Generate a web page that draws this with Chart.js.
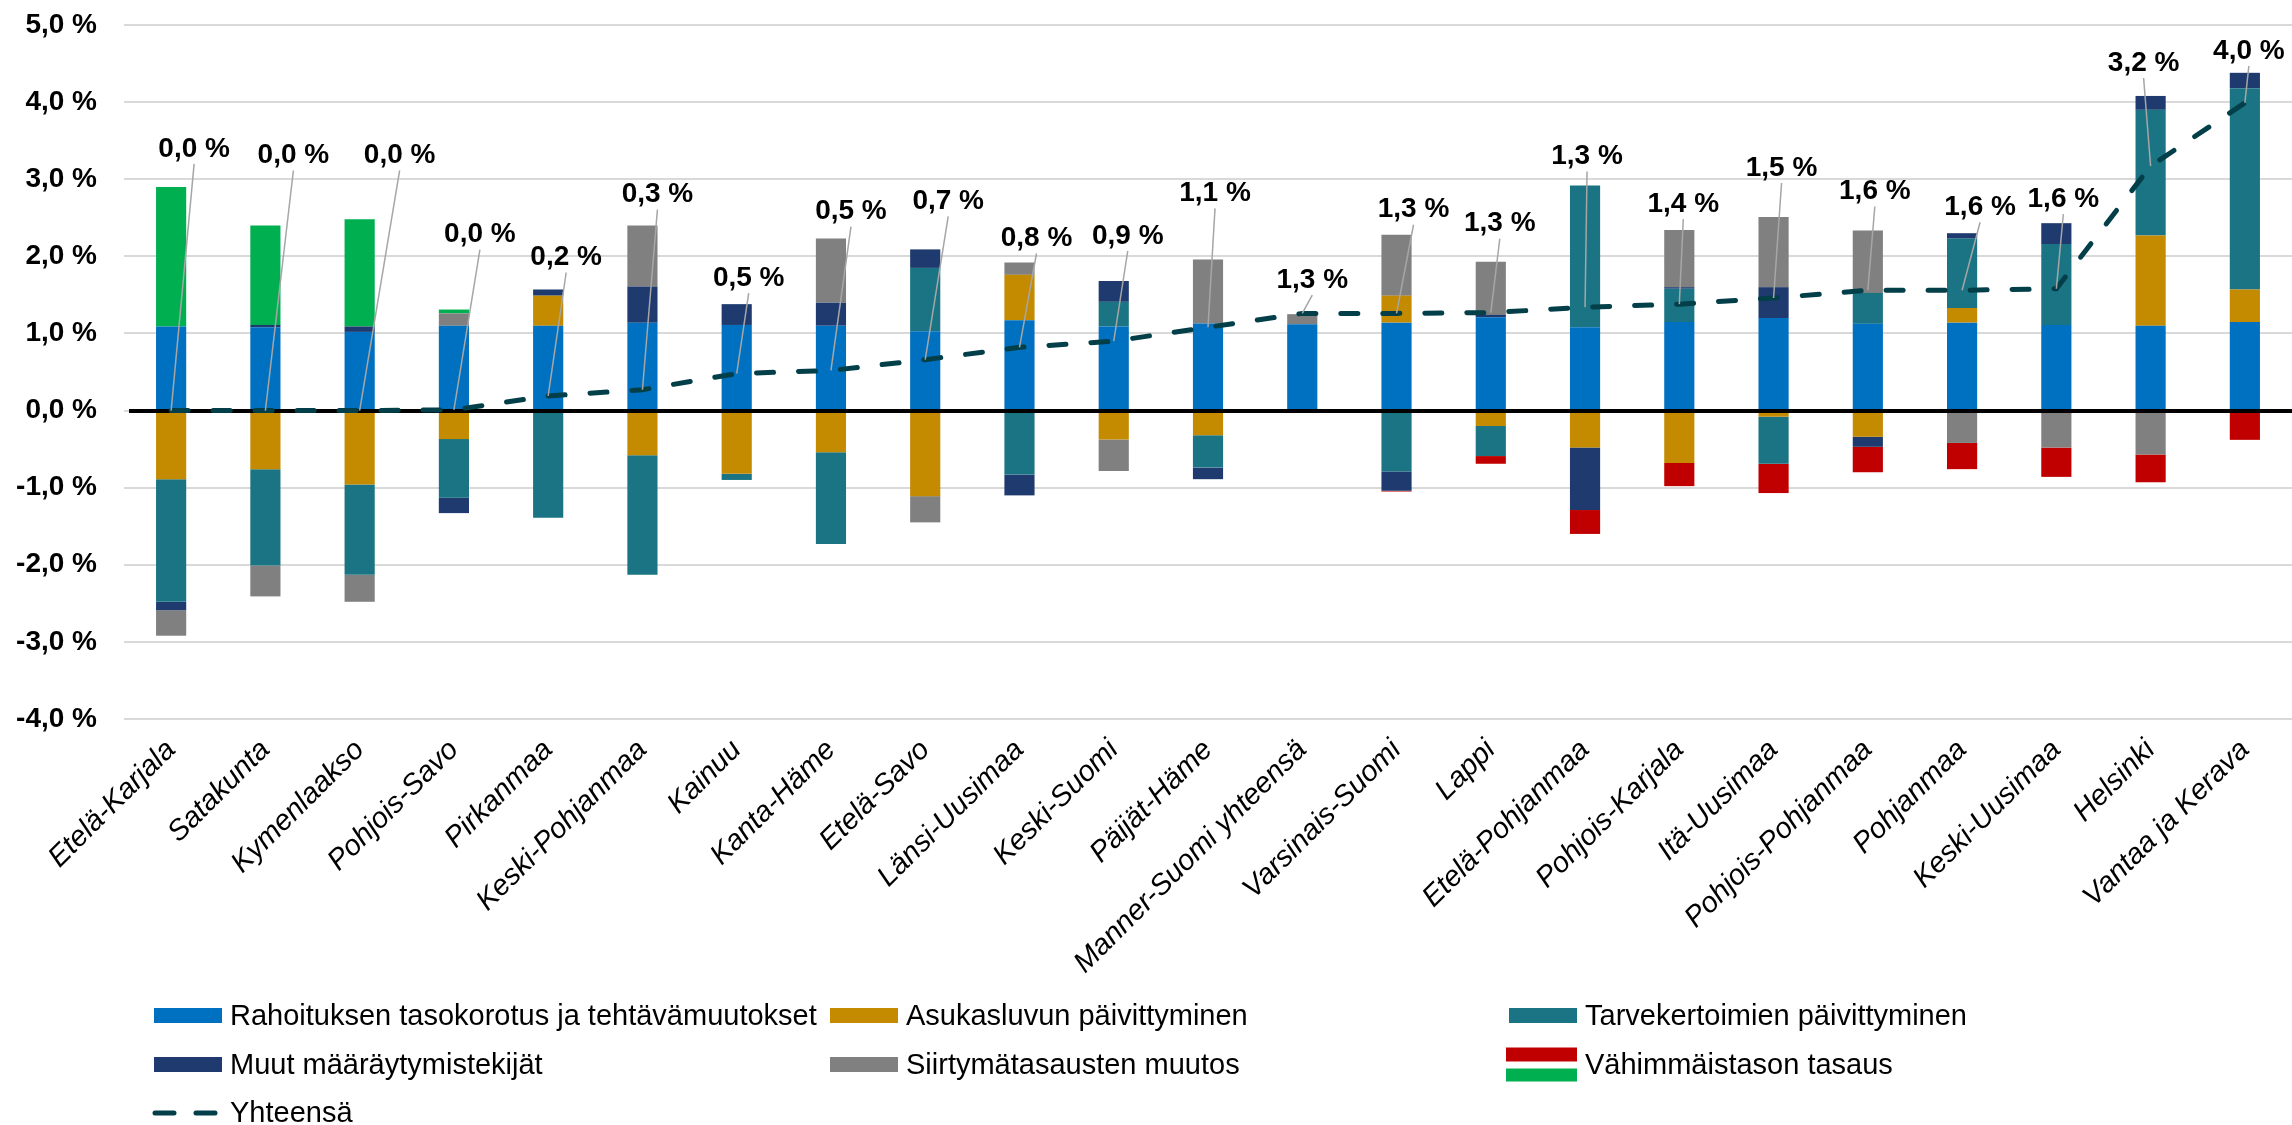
<!DOCTYPE html>
<html><head><meta charset="utf-8">
<script src="https://cdn.jsdelivr.net/npm/chart.js@4"></script>
<style>html,body{margin:0;padding:0;background:#fff}#wrap{width:2292px;height:1125px;position:relative}</style>
</head><body><div id="wrap"><canvas id="c" width="2292" height="1125"></canvas></div>
<script>
// ---------- data ----------
const categories = ['Etelä-Karjala','Satakunta','Kymenlaakso','Pohjois-Savo','Pirkanmaa','Keski-Pohjanmaa','Kainuu','Kanta-Häme','Etelä-Savo','Länsi-Uusimaa','Keski-Suomi','Päijät-Häme','Manner-Suomi yhteensä','Varsinais-Suomi','Lappi','Etelä-Pohjanmaa','Pohjois-Karjala','Itä-Uusimaa','Pohjois-Pohjanmaa','Pohjanmaa','Keski-Uusimaa','Helsinki','Vantaa ja Kerava'];
const rahoitus   = [1.09,1.08,1.02,1.10,1.10,1.14,1.11,1.10,1.03,1.17,1.09,1.13,1.12,1.14,1.21,1.08,1.15,1.20,1.125,1.14,1.11,1.10,1.15];
const asukas     = [-0.89,-0.76,-0.96,-0.37,0.39,-0.58,-0.82,-0.54,-1.11,0.59,-0.375,-0.32,0,0.35,-0.20,-0.48,-0.68,-0.08,-0.34,0.19,0,1.17,0.42];
const tarve      = [-1.59,-1.25,-1.17,-0.76,-1.39,-1.55,-0.08,-1.19,0.82,-0.83,0.32,-0.42,0,-0.79,-0.39,1.84,0.43,-0.61,0.40,0.90,1.05,1.63,2.61];
const muut       = [-0.11,0.03,0.07,-0.20,0.08,0.47,0.27,0.30,0.24,-0.27,0.27,-0.15,0,-0.25,0.03,-0.81,0.02,0.40,-0.13,0.07,0.27,0.18,0.20];
const siirtyma   = [-0.33,-0.40,-0.35,0.16,0,0.79,0,0.83,-0.34,0.16,-0.41,0.83,0.13,0.79,0.69,0,0.74,0.91,0.81,-0.42,-0.48,-0.57,0];
const vahimmais  = [1.81,1.29,1.39,0.05,0,0,0,0,0,0,0,0,0,-0.01,-0.10,-0.31,-0.30,-0.38,-0.33,-0.34,-0.38,-0.36,-0.38];
const yhteensa   = [0,0,0,0.01,0.19,0.27,0.48,0.52,0.66,0.82,0.90,1.08,1.26,1.26,1.27,1.34,1.38,1.46,1.56,1.56,1.58,3.17,3.99];
const yTickValues = [-4,-3,-2,-1,0,1,2,3,4,5];
const seriesNames = ['Rahoituksen tasokorotus ja tehtävämuutokset','Asukasluvun päivittyminen','Tarvekertoimien päivittyminen','Muut määräytymistekijät','Siirtymätasausten muutos','Vähimmäistason tasaus','Yhteensä'];

// ---------- layout / style (label placement nudges, px) ----------
const labelNudgeX = [23,28,40,26,18,15,12,20,23,17,14,7,10,17,9,2,4,8,7,18,7,-7,4];
const labelNudgeY = [38,70,64,75,32,31,26,27,48,24,45,66,34,25,38,29,26,49,39,26,24,33,22];
const COLORS = {blue:'#0070C0', orange:'#C48A00', teal:'#1B7483', navy:'#1E3A6E', gray:'#808080', red:'#C00000', green:'#00B050', line:'#033F48'};
const FONT = '"Liberation Sans", Arial, sans-serif';

const fmt = v => (Math.abs(v) < 0.05 ? 0 : v).toFixed(1).replace('.', ',') + ' %';

const barSeries = [rahoitus, asukas, tarve, muut, siirtyma, vahimmais];
const barColors = [COLORS.blue, COLORS.orange, COLORS.teal, COLORS.navy, COLORS.gray, ctx => (ctx.raw < 0 ? COLORS.red : COLORS.green)];

const datasets = barSeries.map((d, k) => ({
  type: 'bar', label: seriesNames[k], data: d, backgroundColor: barColors[k],
  stack: 'bars', order: 1, barPercentage: 0.32, categoryPercentage: 1.0, borderWidth: 0
}));
datasets.push({
  type: 'line', label: seriesNames[6], data: yhteensa, stack: 'total', order: 0,
  borderColor: COLORS.line, borderWidth: 5, borderDash: [17, 25], borderCapStyle: 'round',
  pointRadius: 0, pointHoverRadius: 0, fill: false, tension: 0
});

const overlay = {
  id: 'overlay',
  afterDatasetDraw(chart, args) {
    if (args.index !== 0) return;
    const ctx = chart.ctx, y = chart.scales.y, a = chart.chartArea;
    const y0 = Math.round(y.getPixelForValue(0));
    ctx.save(); ctx.strokeStyle = '#000'; ctx.lineWidth = 4;
    ctx.beginPath(); ctx.moveTo(a.left + 5, y0); ctx.lineTo(a.right, y0); ctx.stroke(); ctx.restore();
  },
  afterDatasetsDraw(chart) {
    const ctx = chart.ctx, xs = chart.scales.x, ys = chart.scales.y;
    const lineMeta = chart.getDatasetMeta(6);
    ctx.save();
    categories.forEach((c, i) => {
      let top = 0;
      barSeries.forEach(s => { if (s[i] > 0) top += s[i]; });
      const topPx = ys.getPixelForValue(top);
      const lx = xs.getPixelForValue(i) + labelNudgeX[i];
      const ly = topPx - labelNudgeY[i];
      const pt = lineMeta.data[i];
      ctx.strokeStyle = '#A6A6A6'; ctx.lineWidth = 1.5;
      ctx.beginPath(); ctx.moveTo(pt.x, pt.y); ctx.lineTo(lx, ly + 15); ctx.stroke();
      ctx.fillStyle = '#000'; ctx.font = 'bold 28px ' + FONT;
      ctx.textAlign = 'center'; ctx.textBaseline = 'middle';
      ctx.fillText(fmt(yhteensa[i]), lx, ly);
    });
    ctx.restore();
  },
  afterDraw(chart) {
    const ctx = chart.ctx;
    const colX = [154, 830, 1509];
    const rowY = [1015.5, 1064.5, 1113];
    const items = [
      {c:0, r:0, color:COLORS.blue}, {c:1, r:0, color:COLORS.orange}, {c:2, r:0, color:COLORS.teal},
      {c:0, r:1, color:COLORS.navy}, {c:1, r:1, color:COLORS.gray}, {c:2, r:1, color:'split'},
      {c:0, r:2, color:'dash'}
    ];
    ctx.save();
    ctx.font = '29px ' + FONT; ctx.textBaseline = 'middle'; ctx.textAlign = 'left';
    items.forEach((it, k) => {
      const x = colX[it.c], yc = rowY[it.r];
      if (it.color === 'split') {
        ctx.fillStyle = COLORS.red; ctx.fillRect(x - 3, yc - 17, 71, 14);
        ctx.fillStyle = COLORS.green; ctx.fillRect(x - 3, yc + 4, 71, 13);
      } else if (it.color === 'dash') {
        ctx.strokeStyle = COLORS.line; ctx.lineWidth = 5; ctx.lineCap = 'round';
        ctx.beginPath(); ctx.moveTo(x + 1, yc); ctx.lineTo(x + 20, yc);
        ctx.moveTo(x + 42, yc); ctx.lineTo(x + 61, yc); ctx.stroke();
      } else {
        ctx.fillStyle = it.color; ctx.fillRect(x, yc - 7.5, 68, 15);
      }
      ctx.fillStyle = '#000';
      ctx.fillText(seriesNames[k], x + 76, yc + 1);
    });
    ctx.restore();
  }
};

new Chart(document.getElementById('c'), {
  data: { labels: categories, datasets },
  plugins: [overlay],
  options: {
    responsive: false, animation: false, devicePixelRatio: 1,
    layout: { padding: { top: 25, right: 0, left: 0, bottom: 135 } },
    plugins: { legend: { display: false }, tooltip: { enabled: false } },
    scales: {
      x: {
        stacked: true, offset: true,
        grid: { display: false, drawTicks: false }, border: { display: false },
        ticks: { color: '#000', font: { family: FONT, size: 29, style: 'italic' }, maxRotation: 45, minRotation: 45, padding: 14, autoSkip: false },
        afterFit(s) { s.height = 1125 - 135 - 719; s.paddingLeft = 0; s.paddingRight = 0; }
      },
      y: {
        stacked: true, min: -4, max: 5,
        afterBuildTicks(s) { s.ticks = yTickValues.map(v => ({ value: v })); },
        grid: { color: '#D9D9D9', lineWidth: 2, drawTicks: false }, border: { display: false },
        ticks: { color: '#000', font: { family: FONT, size: 28, weight: 'bold' }, padding: 27, callback: v => v.toFixed(1).replace('.', ',') + ' %' },
        afterFit(s) { s.width = 124; s.paddingTop = 0; s.paddingBottom = 0; }
      }
    }
  }
});
</script></body></html>
